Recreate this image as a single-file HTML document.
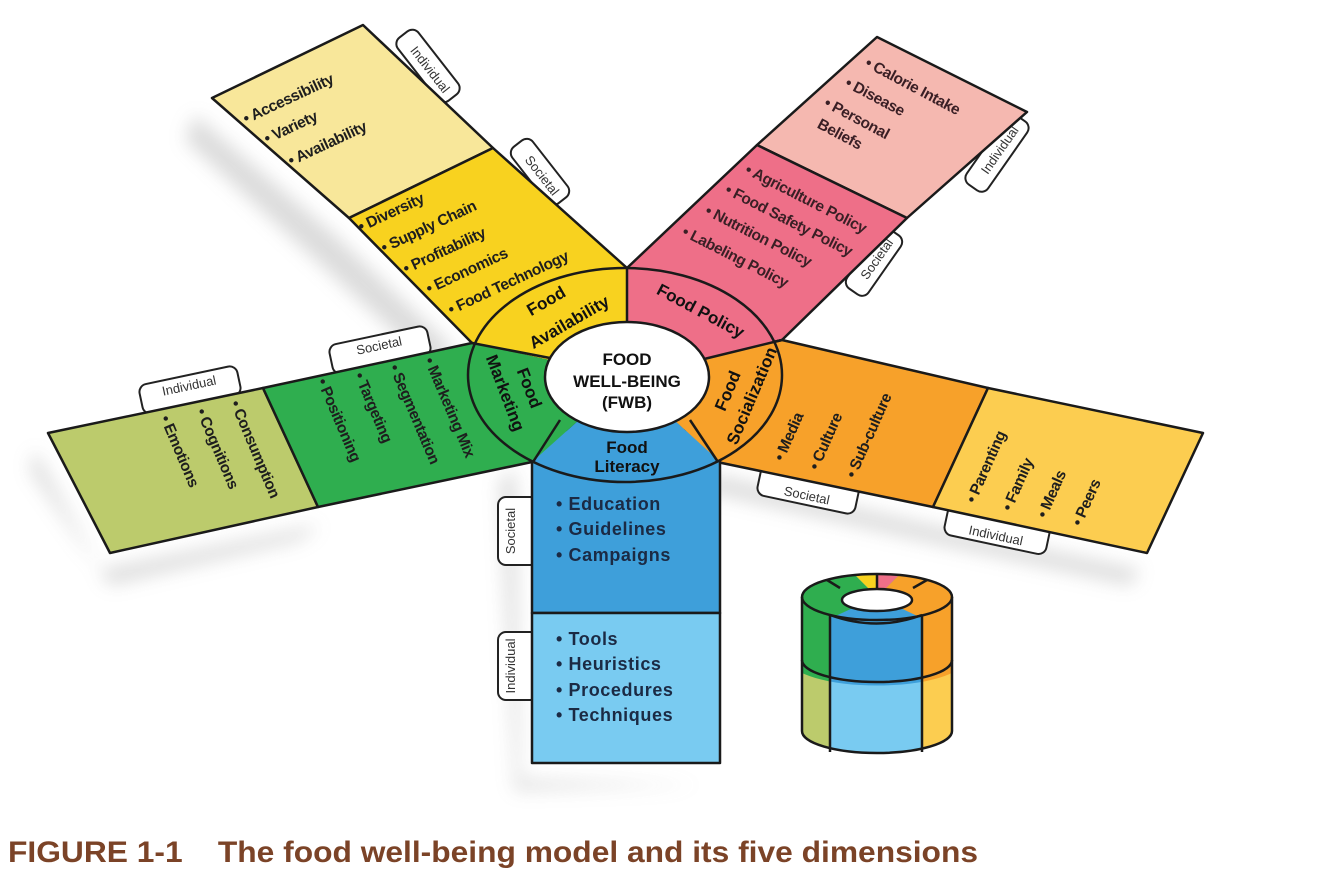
<!DOCTYPE html>
<html><head><meta charset="utf-8"><style>
html,body{margin:0;padding:0;background:#fff;}
svg{display:block;}
text{font-family:"Liberation Sans",sans-serif;}
.a{font-size:15.5px;font-weight:bold;fill:#1e1e1e;letter-spacing:-0.4px;}
.b{font-size:18px;font-weight:bold;fill:#1b2a44;letter-spacing:0.6px;}
.c{font-size:17px;font-weight:bold;fill:#111;}
.t{font-size:13px;fill:#333;text-anchor:middle;}
.tab{fill:#fff;stroke:#222;stroke-width:2;}
.o{stroke:#1a1a1a;stroke-width:2.5;stroke-linejoin:round;}
</style></head><body>
<svg width="1322" height="880" viewBox="0 0 1322 880" xmlns="http://www.w3.org/2000/svg">
<defs>
<filter id="bl" x="-20%" y="-20%" width="140%" height="140%"><feGaussianBlur stdDeviation="9"/></filter>
<clipPath id="ring"><ellipse cx="625" cy="375" rx="157" ry="107"/></clipPath>
<clipPath id="cyl"><path d="M802,597 L802,731 A75,22 0 0 0 952,731 L952,597 A75,23 0 0 0 802,597 Z"/></clipPath>
<clipPath id="cylup"><path d="M790,540 L790,660 A75,22 0 0 0 964,660 L964,540 Z"/></clipPath>
<clipPath id="ctop"><ellipse cx="877" cy="597" rx="75" ry="23"/></clipPath>
</defs>

<!-- shadows -->
<g fill="#9a9a9a" opacity="0.35" filter="url(#bl)">
<polygon points="195,115 335,235 455,350 430,365 185,140"/>
<polygon points="35,450 100,570 320,525 300,540 110,585 30,470"/>
<polygon points="715,475 930,525 1140,570 1130,585 920,540 700,490"/>
<polygon points="515,470 520,780 700,785 515,790 500,480"/>
</g>

<!-- tabs (behind arms) -->
<g transform="translate(428,66) rotate(52)"><rect class="tab" x="-40" y="-13" width="80" height="26" rx="8"/><text class="t" x="4" y="5">Individual</text></g>
<g transform="translate(540,172) rotate(52)"><rect class="tab" x="-36" y="-13" width="72" height="26" rx="8"/><text class="t" x="4" y="5">Societal</text></g>
<g transform="translate(997,153) rotate(-55)"><rect class="tab" x="-42" y="-13" width="84" height="26" rx="8"/><text class="t" x="4" y="5">Individual</text></g>
<g transform="translate(874,262) rotate(-55)"><rect class="tab" x="-36" y="-13" width="72" height="26" rx="8"/><text class="t" x="4" y="5">Societal</text></g>
<g transform="translate(190,390) rotate(-12)"><rect class="tab" x="-50" y="-15" width="100" height="30" rx="8"/><text class="t" x="0" y="0">Individual</text></g>
<g transform="translate(380,350) rotate(-12)"><rect class="tab" x="-50" y="-15" width="100" height="30" rx="8"/><text class="t" x="0" y="0">Societal</text></g>
<g transform="translate(808,490) rotate(12)"><rect class="tab" x="-50" y="-15" width="100" height="30" rx="8"/><text class="t" x="0" y="10">Societal</text></g>
<g transform="translate(997,530) rotate(12)"><rect class="tab" x="-52" y="-15" width="104" height="30" rx="8"/><text class="t" x="0" y="10">Individual</text></g>
<g transform="translate(516,531) rotate(-90)"><rect class="tab" x="-34" y="-18" width="68" height="40" rx="8"/><text class="t" x="0" y="-1">Societal</text></g>
<g transform="translate(516,666) rotate(-90)"><rect class="tab" x="-34" y="-18" width="68" height="40" rx="8"/><text class="t" x="0" y="-1">Individual</text></g>

<!-- arms -->
<g class="o">
<polygon fill="#f8e79a" points="212,98 363,25 493,148 349,218"/>
<polygon fill="#f8d21f" points="349,218 493,148 627,268 627,377 472,343"/>
<polygon fill="#f5b8b0" points="877,37 1027,112 907,218 757,145"/>
<polygon fill="#ee6f88" points="757,145 907,218 782,340 627,377 627,268"/>
<polygon fill="#bccb6c" points="48,433 263,388 318,507 110,553"/>
<polygon fill="#2fae4f" points="263,388 472,343 627,377 532,462 318,507"/>
<polygon fill="#f7a12a" points="782,340 988,388 933,507 717,462 627,377"/>
<polygon fill="#fccd50" points="988,388 1203,433 1147,553 933,507"/>
<rect fill="#3e9fda" x="532" y="430" width="188" height="183"/>
<rect fill="#79cbf1" x="532" y="613" width="188" height="150"/>
</g>

<!-- ring -->
<g clip-path="url(#ring)">
<polygon fill="#f8d21f" points="627,377 317,309 627,120"/>
<polygon fill="#ee6f88" points="627,377 627,120 937,303"/>
<polygon fill="#f7a12a" points="627,377 937,303 813,547"/>
<polygon fill="#3e9fda" points="627,377 813,547 437,547"/>
<polygon fill="#2fae4f" points="627,377 437,547 317,309"/>
</g>
<ellipse cx="625" cy="375" rx="157" ry="107" fill="none" class="o"/>
<g class="o">
<line x1="627" y1="268" x2="627" y2="330"/>
<line x1="700" y1="360" x2="782" y2="340"/>
<line x1="690" y1="420" x2="718" y2="462"/>
<line x1="560" y1="420" x2="533" y2="462"/>
<line x1="550" y1="358" x2="472" y2="343"/>
</g>
<ellipse cx="627" cy="377" rx="82" ry="55" fill="#fff" class="o"/>
<text class="c" text-anchor="middle" x="627" y="365">FOOD</text>
<text class="c" text-anchor="middle" x="627" y="387">WELL-BEING</text>
<text class="c" text-anchor="middle" x="627" y="408">(FWB)</text>

<!-- ring labels -->
<text class="c" text-anchor="middle" transform="translate(549,306) rotate(-30)">Food</text>
<text class="c" text-anchor="middle" transform="translate(572,327) rotate(-30)">Availability</text>
<text class="c" text-anchor="middle" transform="translate(698,316) rotate(28)">Food Policy</text>
<text class="c" text-anchor="middle" transform="translate(524,390) rotate(69)">Food</text>
<text class="c" text-anchor="middle" transform="translate(500,395) rotate(69)">Marketing</text>
<text class="c" text-anchor="middle" transform="translate(733,393) rotate(-67)">Food</text>
<text class="c" text-anchor="middle" transform="translate(757,398) rotate(-67)">Socialization</text>
<text class="c" text-anchor="middle" x="627" y="453">Food</text>
<text class="c" text-anchor="middle" x="627" y="472">Literacy</text>

<!-- yellow text -->
<g class="a">
<text transform="translate(246,124) rotate(-25)">• Accessibility</text>
<text transform="translate(267,144) rotate(-25)">• Variety</text>
<text transform="translate(291,166) rotate(-25)">• Availability</text>
<text transform="translate(361,232) rotate(-25)">• Diversity</text>
<text transform="translate(384,253) rotate(-25)">• Supply Chain</text>
<text transform="translate(406,274) rotate(-25)">• Profitability</text>
<text transform="translate(429,294) rotate(-25)">• Economics</text>
<text transform="translate(451,315) rotate(-25)">• Food Technology</text>
</g>
<!-- pink text -->
<g class="a" style="fill:#3a1f25">
<text transform="translate(864,66) rotate(28)">• Calorie Intake</text>
<text transform="translate(844,86) rotate(28)">• Disease</text>
<g transform="translate(823,106) rotate(28)"><text>• Personal</text><text x="4" y="22">Beliefs</text></g>
<text transform="translate(744,173) rotate(27)">• Agriculture Policy</text>
<text transform="translate(724,193) rotate(27)">• Food Safety Policy</text>
<text transform="translate(704,214) rotate(27)">• Nutrition Policy</text>
<text transform="translate(681,235) rotate(27)">• Labeling Policy</text>
</g>
<!-- green text -->
<g class="a">
<text transform="translate(230,403) rotate(67)">• Consumption</text>
<text transform="translate(196,411) rotate(67)">• Cognitions</text>
<text transform="translate(160,418) rotate(67)">• Emotions</text>
<text transform="translate(424,360) rotate(67)">• Marketing Mix</text>
<text transform="translate(389,367) rotate(67)">• Segmentation</text>
<text transform="translate(354,375) rotate(67)">• Targeting</text>
<text transform="translate(317,381) rotate(67)">• Positioning</text>
</g>
<!-- orange text -->
<g class="a">
<text transform="translate(783,462) rotate(-66)">• Media</text>
<text transform="translate(818,471) rotate(-66)">• Culture</text>
<text transform="translate(855,479) rotate(-66)">• Sub-culture</text>
<text transform="translate(975,504) rotate(-66)">• Parenting</text>
<text transform="translate(1011,512) rotate(-66)">• Family</text>
<text transform="translate(1046,519) rotate(-66)">• Meals</text>
<text transform="translate(1081,527) rotate(-66)">• Peers</text>
</g>
<!-- blue text -->
<g class="b">
<text x="556" y="510">• Education</text>
<text x="556" y="535">• Guidelines</text>
<text x="556" y="561">• Campaigns</text>
<text x="556" y="645">• Tools</text>
<text x="556" y="670">• Heuristics</text>
<text x="556" y="696">• Procedures</text>
<text x="556" y="721">• Techniques</text>
</g>

<!-- cylinder -->
<g clip-path="url(#cyl)">
<rect x="795" y="560" width="35" height="200" fill="#bccb6c"/>
<rect x="830" y="560" width="92" height="200" fill="#79cbf1"/>
<rect x="922" y="560" width="35" height="200" fill="#fccd50"/>
<g clip-path="url(#cylup)">
<rect x="795" y="560" width="35" height="200" fill="#2fae4f"/>
<rect x="830" y="560" width="92" height="200" fill="#3e9fda"/>
<rect x="922" y="560" width="35" height="200" fill="#f7a12a"/>
</g>
</g>
<g clip-path="url(#ctop)">
<polygon fill="#2fae4f" points="877,597 740,660 740,540 820,540"/>
<polygon fill="#f8d21f" points="877,597 820,540 877,540"/>
<polygon fill="#ee6f88" points="877,597 877,540 934,540"/>
<polygon fill="#f7a12a" points="877,597 934,540 1010,540 1010,660"/>
<polygon fill="#3e9fda" points="877,597 1010,660 740,660"/>
</g>
<g fill="none" class="o">
<path d="M802,597 L802,731 A75,22 0 0 0 952,731 L952,597"/>
<ellipse cx="877" cy="597" rx="75" ry="23"/>
<path d="M802,660 A75,22 0 0 0 952,660"/>
<line x1="830" y1="615" x2="830" y2="752"/>
<line x1="922" y1="615" x2="922" y2="752"/>
<path d="M830,615 Q877,632 922,615"/>
<line x1="840" y1="588" x2="827" y2="580"/>
<line x1="877" y1="588" x2="877" y2="574"/>
<line x1="913" y1="588" x2="927" y2="580"/>
</g>
<ellipse cx="877" cy="600" rx="35" ry="11" fill="#fff" class="o"/>

<!-- caption -->
<text x="8" y="862" font-size="30" font-weight="bold" fill="#7b4327" textLength="970" lengthAdjust="spacingAndGlyphs" xml:space="preserve">FIGURE 1-1    The food well-being model and its five dimensions</text>
</svg>
</body></html>
